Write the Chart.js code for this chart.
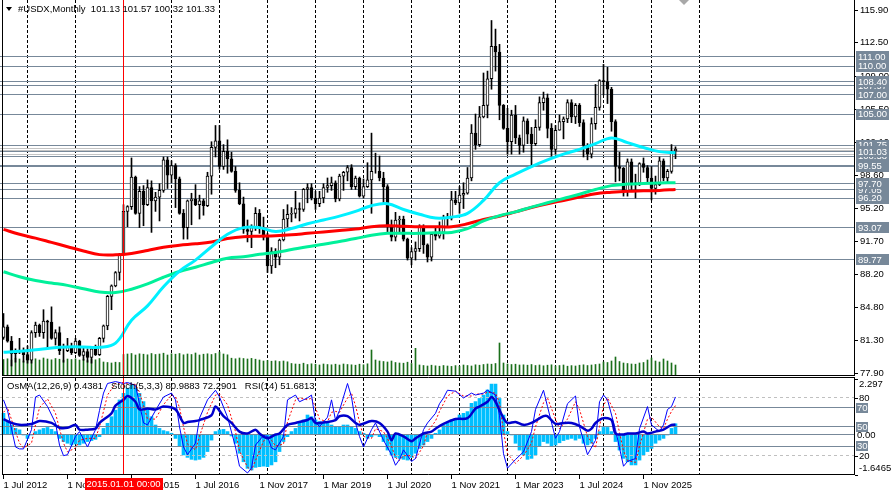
<!DOCTYPE html>
<html>
<head>
<meta charset="utf-8">
<script src="https://cdn.jsdelivr.net/npm/chart.js@4.4.1/dist/chart.umd.min.js"></script>
<style>
html, body { margin: 0; padding: 0; background: #fff; }
#wrap { position: relative; width: 891px; height: 495px; overflow: hidden; background: #fff; }
canvas { position: absolute; left: 0; }
#main { top: 0; }
#osc { top: 376px; }
</style>
</head>
<body>
<div id="wrap">
  <canvas id="main" width="891" height="376"></canvas>
  <canvas id="osc" width="891" height="119"></canvas>
</div>
<script>
// monthly bars, index 0 = Jul 2012
var firstOpen = 81.6;
var closes = [
  82.7, 81.2, 79.9, 80.1, 80.2, 79.8, 79.2, 82.1, 82.9, 82.1,
  83.3, 83.2, 81.5, 82.1, 80.2, 80.2, 80.7, 80.0, 81.2, 79.7,
  80.1, 79.5, 80.4, 79.8, 81.5, 82.8, 85.9, 87.0, 88.4, 90.3,
  94.8, 95.3, 98.4, 94.6, 96.9, 95.5, 97.3, 95.9, 96.3, 97.0,
  100.2, 98.6, 99.6, 98.2, 94.6, 93.1, 95.9, 96.1, 95.5, 95.9,
  95.4, 98.5, 101.5, 102.2, 99.5, 101.1, 100.3, 99.0, 97.0, 95.6,
  92.9, 92.7, 93.1, 94.6, 93.0, 92.1, 89.1, 90.6, 90.0, 91.8,
  94.0, 94.5, 94.6, 95.1, 95.0, 97.1, 97.3, 96.2, 95.6, 96.2,
  97.3, 97.5, 97.8, 96.1, 98.5, 98.9, 99.4, 97.4, 98.3, 96.4,
  97.4, 98.1, 99.0, 99.0, 98.3, 97.4, 93.3, 92.1, 93.9, 94.0,
  91.9, 89.9, 90.6, 90.9, 93.2, 91.3, 90.0, 92.4, 92.2, 92.6,
  94.2, 94.1, 96.0, 95.7, 96.5, 96.7, 98.3, 103.0, 101.8, 104.7,
  105.9, 108.7, 112.1, 111.5, 105.9, 103.5, 102.1, 104.9, 102.5, 101.7,
  104.3, 102.9, 101.9, 103.6, 106.2, 106.7, 103.5, 101.3, 103.3, 104.2,
  104.5, 106.2, 104.7, 105.9, 104.1, 101.7, 100.8, 104.0, 105.7, 108.5,
  108.4, 107.6, 104.2, 99.5, 99.3, 96.9, 100.0, 97.8, 97.75, 99.8,
  99.4, 98.3, 97.2, 97.6, 100.1, 98.3, 99.0, 101.13, 101.33
];
var highs = [
  84.1, 82.9, 81.7, 80.4, 81.5, 80.5, 80.7, 82.3, 83.2, 83.0,
  84.5, 83.4, 84.8, 82.4, 82.7, 80.9, 81.5, 81.0, 81.5, 81.3,
  80.5, 80.4, 80.6, 80.8, 81.6, 82.9, 86.0, 87.1, 88.5, 90.4,
  95.5, 95.4, 100.4, 98.5, 97.4, 97.5, 98.1, 98.0, 96.8, 97.7,
  100.5, 100.5, 100.1, 99.8, 98.4, 95.0, 96.0, 96.7, 97.6, 96.5,
  96.1, 98.9, 102.1, 103.8, 103.8, 101.8, 102.3, 101.0, 99.5, 97.8,
  96.3, 93.9, 93.4, 95.2, 95.0, 94.2, 92.5, 91.0, 90.9, 91.9,
  95.0, 95.5, 95.2, 96.9, 95.7, 97.2, 97.7, 97.7, 96.9, 96.9,
  97.7, 98.3, 98.4, 98.0, 98.7, 99.0, 99.6, 99.7, 98.5, 98.4,
  98.2, 99.9, 103.0, 100.9, 100.6, 98.9, 97.6, 93.9, 94.7, 94.3,
  94.3, 92.0, 91.0, 91.6, 93.4, 93.4, 91.4, 92.5, 93.2, 93.7,
  94.4, 94.6, 96.9, 96.9, 97.4, 97.8, 99.4, 103.9, 105.0, 105.8,
  109.3, 109.5, 114.8, 113.9, 112.3, 106.0, 105.6, 105.4, 105.9, 102.8,
  104.7, 104.5, 103.6, 104.4, 106.8, 107.3, 107.1, 104.0, 103.8, 104.9,
  104.7, 106.5, 106.5, 106.1, 106.1, 104.4, 101.9, 104.6, 108.1, 108.6,
  110.2, 109.9, 107.8, 104.4, 101.0, 99.4, 100.3, 100.3, 98.7, 99.9,
  100.4, 99.6, 99.5, 98.5, 100.5, 100.3, 99.2, 101.8, 101.57
];
var lows = [
  81.4, 81.1, 78.6, 79.0, 79.9, 79.0, 78.9, 78.9, 81.6, 81.7,
  81.5, 80.5, 81.4, 80.8, 79.8, 79.0, 80.1, 79.8, 79.9, 79.6,
  79.2, 79.0, 78.9, 79.7, 79.7, 81.1, 82.4, 84.5, 86.9, 87.6,
  90.2, 93.2, 95.0, 94.5, 93.1, 93.3, 95.4, 92.6, 94.8, 93.8,
  96.8, 97.2, 97.8, 95.2, 94.5, 91.9, 91.9, 93.4, 95.4, 94.0,
  94.4, 95.3, 96.6, 100.5, 99.2, 99.2, 98.8, 98.9, 96.8, 95.5,
  92.5, 91.6, 91.0, 92.8, 92.5, 91.8, 88.4, 88.3, 88.9, 89.2,
  91.7, 93.2, 93.7, 94.1, 93.8, 94.8, 95.7, 96.0, 95.0, 95.3,
  95.7, 96.8, 97.0, 95.8, 95.9, 97.0, 98.0, 97.1, 97.1, 96.3,
  96.2, 97.3, 94.6, 98.8, 98.0, 95.7, 92.5, 91.7, 91.7, 92.5,
  91.7, 89.7, 89.2, 89.7, 90.6, 90.4, 89.5, 89.6, 91.8, 92.0,
  91.9, 93.3, 93.9, 95.5, 94.6, 95.1, 96.6, 98.0, 101.3, 101.6,
  104.6, 104.6, 107.6, 109.5, 104.4, 103.4, 100.8, 100.8, 101.9, 100.8,
  101.0, 101.9, 99.6, 101.7, 103.3, 105.4, 102.5, 100.6, 100.8, 103.3,
  102.4, 104.1, 104.1, 104.0, 103.7, 100.5, 100.2, 100.4, 103.4, 105.4,
  107.0, 106.1, 103.2, 97.9, 98.0, 96.4, 96.4, 97.1, 96.2, 97.5,
  98.9, 97.8, 96.0, 96.6, 97.5, 98.0, 97.8, 98.8, 100.32
];
var volumes = [
  165, 172, 160, 178, 170, 150, 168, 175, 172, 160, 180, 170, 162, 175, 168,
  158, 170, 165, 172, 160, 168, 155, 170, 162, 175, 140, 135, 130, 138, 135,
  215, 220, 225, 210, 222, 218, 212, 225, 215, 220, 228, 210, 222, 218, 225,
  212, 220, 215, 230, 210, 218, 222, 215, 225, 240, 220, 212,
  178, 172, 180, 175, 170, 176, 168, 160, 150, 155, 148, 152, 145, 150, 142,
  125, 120, 118, 128, 115, 122, 118, 110, 120, 115, 112, 118, 110, 120, 115,
  112, 108, 118, 112, 122,
  260,
  160, 150, 145, 140, 150, 135, 130, 128, 138, 125,
  277,
  110, 105, 100, 108, 102, 98, 105, 100, 96, 104, 98, 110, 105, 100, 112,
  108, 115, 120, 118, 125,
  330,
  130, 120, 115, 118, 110, 112, 108, 115, 105, 110, 102, 108, 112, 100, 105,
  110, 98, 104, 100, 108, 112, 105, 110, 115, 120,
  140, 135, 150, 190, 145, 130, 125, 120, 118, 130, 135, 160, 180, 150, 140,
  170, 150, 130, 110
];

// moving averages read every 4 bars
var maBars = [0, 4, 8, 12, 16, 20, 24, 28, 32, 36, 40, 44, 48, 52, 56, 60, 64, 68, 72, 76, 80, 84,
  88, 92, 96, 100, 104, 108, 112, 116, 120, 124, 128, 132, 136, 140, 144, 148, 152, 156, 160, 164, 168];
var maCyan = [80.03, 80.15, 80.3, 80.5, 80.6, 80.6, 80.56, 81.0, 83.4, 84.9, 86.9, 88.55, 89.7, 91.1,
  92.4, 93.1, 93.1, 92.7, 93.0, 93.5, 93.9, 94.3, 94.8, 95.4, 95.6, 95.0, 94.5, 94.1, 94.2, 94.6,
  95.95, 97.8, 98.7, 99.5, 100.2, 100.8, 101.3, 101.9, 102.5, 102.0, 101.5, 101.06, 100.95];
var maGreen = [88.48, 87.95, 87.55, 87.3, 87.05, 86.7, 86.35, 86.3, 86.65, 87.2, 87.9, 88.5, 88.95,
  89.45, 89.9, 90.05, 90.3, 90.5, 90.8, 91.1, 91.35, 91.65, 91.95, 92.3, 92.5, 92.5, 92.5, 92.55,
  92.6, 93.0, 93.8, 94.35, 94.75, 95.25, 95.7, 96.15, 96.6, 97.1, 97.5, 97.67, 97.72, 97.77, 97.81];
var maRed = [92.92, 92.4, 92.0, 91.55, 91.1, 90.65, 90.27, 90.25, 90.4, 90.7, 91.05, 91.25, 91.4,
  91.6, 91.95, 92.15, 92.2, 92.25, 92.35, 92.5, 92.65, 92.8, 92.95, 93.2, 93.3, 93.25, 93.2, 93.2,
  93.2, 93.5, 93.95, 94.3, 94.75, 95.2, 95.6, 95.95, 96.3, 96.65, 96.8, 96.9, 96.95, 97.0, 97.1];

// oscillators
var osma = [
  0.87, 0.53, 0.39, 0.25, 0.19, -0.02, -0.16, -0.02, 0.12, 0.19,
  0.25, 0.29, 0.21, 0.12, -0.16, -0.29, -0.36, -0.43, -0.39, -0.43,
  -0.36, -0.29, -0.25, -0.2, -0.09, 0.25, 0.46, 0.73, 1.0, 1.42,
  1.69, 1.9, 2.03, 1.9, 1.69, 1.35, 1.07, 0.73, 0.39, 0.25,
  0.16, 0.12, 0.05, -0.16, -0.5, -0.84, -0.94, -1.02, -1.05, -1.02,
  -0.94, -0.7, -0.23, 0.12, 0.19, 0.21, 0.12, -0.06, -0.36, -0.77,
  -1.12, -1.39, -1.46, -1.35, -1.32, -1.3, -1.32, -1.25, -1.12, -0.7,
  -0.29, -0.09, 0.12, 0.25, 0.46, 0.6, 0.8, 0.73, 0.6, 0.53,
  0.46, 0.46, 0.39, 0.32, 0.32, 0.39, 0.39, 0.32, 0.25, 0.12,
  0.05, -0.16, -0.09, -0.02, -0.09, -0.29, -0.64, -0.84, -0.94, -0.98,
  -1.02, -1.05, -0.94, -0.77, -0.57, -0.43, -0.29, -0.16, 0.05, 0.19,
  0.39, 0.46, 0.6, 0.66, 0.8, 0.87, 0.94, 1.28, 1.35, 1.48,
  1.62, 1.83, 2.07, 2.07, 1.48, 0.8, 0.12, -0.02, -0.36, -0.64,
  -0.84, -1.02, -0.98, -0.84, -0.5, -0.29, -0.36, -0.47, -0.43, -0.34,
  -0.25, -0.2, -0.16, -0.23, -0.16, -0.36, -0.43, -0.36, -0.16, 0.12,
  0.29, 0.29, 0.12, -0.29, -0.64, -0.98, -1.12, -1.25, -1.25, -1.05,
  -0.84, -0.7, -0.57, -0.36, -0.23, -0.16, -0.02, 0.25, 0.44
];
var stochBars = [0, 1, 3, 4, 5, 7, 8, 9, 11, 13, 14, 15, 16, 18, 19, 21, 23, 24, 25, 26,
  28, 30, 31, 33, 34, 35, 36, 38, 40, 42, 43, 44, 45, 46, 48, 49, 51, 53, 54, 56,
  58, 59, 61, 62, 63, 65, 66, 67, 68, 70, 71, 73, 74, 76, 77, 78, 79, 81, 82, 83,
  84, 86, 87, 88, 89, 90, 92, 93, 95, 97, 98, 99, 100, 102, 103, 105, 106, 108, 109, 110,
  111, 113, 115, 117, 118, 120, 121, 123, 124, 125, 126, 128, 130, 132, 133, 135, 136, 138, 139, 141,
  143, 144, 146, 148, 149, 150, 151, 153, 154, 155, 156, 158, 159, 161, 162, 164, 165, 166, 167, 168];
var stochMain = [78, 67, 29, 27, 27, 47, 81, 83, 71, 54, 31, 20, 21, 40, 45, 29, 47, 67, 85, 95,
  97, 95, 96, 93, 74, 54, 52, 67, 81, 85, 78, 50, 29, 21, 33, 59, 78, 88, 81, 60,
  29, 9, 2, 7, 31, 41, 40, 28, 26, 40, 78, 83, 76, 80, 83, 55, 50, 60, 78, 57,
  67, 95, 81, 54, 40, 29, 47, 54, 36, 21, 10, 16, 26, 14, 17, 47, 54, 64, 74, 80,
  88, 87, 80, 85, 83, 85, 88, 83, 62, 22, 7, 16, 24, 45, 68, 88, 71, 38, 45, 74,
  82, 50, 21, 36, 76, 83, 78, 47, 28, 9, 14, 17, 48, 71, 52, 45, 52, 68, 71, 81];
var stochSignal = [65, 70, 45, 33, 28, 33, 52, 70, 79, 64, 48, 33, 24, 28, 36, 38, 38, 50, 66, 83,
  95, 96, 95, 94, 86, 72, 58, 58, 73, 83, 81, 70, 50, 32, 26, 40, 65, 83, 84, 73,
  45, 25, 8, 5, 15, 35, 40, 36, 30, 32, 55, 78, 80, 78, 80, 70, 58, 55, 65, 66,
  65, 80, 85, 72, 55, 40, 38, 48, 45, 30, 18, 15, 20, 20, 17, 30, 45, 56, 66, 74,
  82, 87, 82, 82, 84, 84, 86, 85, 75, 45, 22, 12, 20, 33, 50, 75, 80, 58, 48, 58,
  76, 68, 40, 28, 50, 72, 80, 64, 44, 25, 15, 13, 30, 58, 60, 50, 48, 58, 66, 72];
var rsiBars = [0, 2, 4, 7, 9, 12, 14, 16, 18, 19, 21, 23, 24, 27, 28, 30, 31, 33, 34, 36,
  38, 40, 43, 45, 46, 48, 49, 52, 53, 55, 57, 59, 61, 63, 64, 66, 68, 69, 71, 73,
  76, 77, 78, 81, 83, 84, 86, 88, 89, 92, 94, 96, 97, 98, 100, 102, 103, 105, 107, 108,
  110, 113, 116, 118, 119, 121, 122, 123, 125, 126, 128, 130, 132, 135, 136, 138, 140, 142, 144, 146,
  147, 148, 150, 152, 153, 155, 156, 158, 160, 161, 163, 165, 167, 168];
var rsiValues = [58, 54, 52, 53, 56, 54, 49, 49, 52, 47, 47, 48, 54, 64, 72, 78, 82, 76, 68, 69,
  68, 71, 68, 54, 55, 56, 57, 62, 71, 61, 54, 45, 43, 47, 43, 38, 42, 43, 52, 54,
  57, 59, 54, 55, 57, 61, 61, 54, 52, 56, 54, 45, 36, 43, 40, 35, 38, 43, 45, 48,
  53, 58, 59, 69, 71, 76, 81, 76, 59, 54, 55, 52, 54, 61, 61, 53, 54, 54, 51, 46,
  48, 54, 59, 57, 43, 42, 43, 43, 45, 43, 45, 47, 52, 52];

// axes and levels
var priceTicks = [115.90, 112.50, 109.00, 105.50, 102.10, 98.60, 95.20, 91.70, 88.20, 84.80, 81.30, 77.90];
var levelPrices = [111.00, 110.00, 108.40, 107.97, 107.00, 105.00, 101.75, 101.41, 101.20, 101.03,
  100.79, 100.58, 99.66, 99.55, 97.70, 97.05, 96.20, 93.07, 89.77];
var taggedLevels = [111.00, 110.00, 108.40, 107.00, 105.00, 101.75, 101.03, 99.55, 97.70, 96.20, 93.07, 89.77];
var coveredTags = [107.97, 100.58, 97.05];
var oscLevels = [80, 70, 50, 30, 20];
var oscTagged = [70, 50, 30];
var osmaScaleMax = 2.297, osmaScaleMin = -1.6465;
var timeLabelBars = [0, 16, 32, 48, 64, 80, 96, 112, 128, 144, 160];
var timeLabels = ['1 Jul 2012', '1 Nov 2013', '1 Mar 2015', '1 Jul 2016', '1 Nov 2017', '1 Mar 2019',
  '1 Jul 2020', '1 Nov 2021', '1 Mar 2023', '1 Jul 2024', '1 Nov 2025'];
var crossBar = 30, crossLabel = '2015.01.01 00:00';
var oscTitles = ['OsMA(12,26,9) 0.4381', 'Stoch(5,3,3) 80.9883 72.2901', 'RSI(14) 51.6813'];

var FONT = '9.5px "Liberation Sans", Arial, sans-serif';
var SLATE = '#778899';
var lightLevels = [101.41, 101.20, 100.79];

var opens = closes.map(function (c, i) { return i === 0 ? firstOpen : closes[i - 1]; });
var barIdx = closes.map(function (c, i) { return i; });
var last = closes.length - 1;
var yearBars = [];
for (var b = 6; b < 175; b += 12) yearBars.push(b);

function pts(bars, vals) {
  return bars.map(function (bb, k) { return { x: bb, y: vals[k] }; });
}
function seg(ctx, x1, y1, x2, y2) {
  ctx.beginPath(); ctx.moveTo(x1, y1); ctx.lineTo(x2, y2); ctx.stroke();
}
function px(scale, v) { return Math.floor(scale.getPixelForValue(v)) + 0.5; }

var xRange = { type: 'linear', min: -0.875, max: 212.625, offset: false, bounds: 'data' };

var mainDeco = {
  id: 'mainDeco',
  beforeDatasetsDraw: function (chart) {
    var ctx = chart.ctx, a = chart.chartArea, x = chart.scales.x, y = chart.scales.y;
    ctx.save();
    ctx.lineWidth = 1;
    ctx.strokeStyle = '#000';
    ctx.setLineDash([3, 2]);
    yearBars.forEach(function (bb) { var p = px(x, bb); seg(ctx, p, a.top, p, a.bottom); });
    ctx.setLineDash([]);
    levelPrices.forEach(function (p) {
      ctx.strokeStyle = lightLevels.indexOf(p) >= 0 ? '#C4C4C4' : SLATE;
      var py = px(y, p);
      seg(ctx, a.left, py, a.right, py);
    });
    ctx.restore();
  },
  afterDatasetsDraw: function (chart) {
    var ctx = chart.ctx, a = chart.chartArea, x = chart.scales.x, y = chart.scales.y;
    ctx.save();
    ctx.lineWidth = 1;
    ctx.strokeStyle = '#FF0000';
    var cx = px(x, crossBar);
    seg(ctx, cx, 0, cx, a.bottom);

    ctx.strokeStyle = '#000';
    seg(ctx, 2.5, 0, 2.5, a.bottom);
    seg(ctx, a.right + 0.5, 0, a.right + 0.5, a.bottom);
    seg(ctx, 2, a.bottom - 0.5, a.right + 1, a.bottom - 0.5);

    ctx.font = FONT;
    ctx.textAlign = 'left';
    ctx.textBaseline = 'middle';
    ctx.fillStyle = '#000';
    priceTicks.forEach(function (t) {
      var py = Math.round(y.getPixelForValue(t));
      ctx.fillRect(a.right + 1, py, 3, 1);
      ctx.fillText(t.toFixed(2), a.right + 6, py + 0.5);
    });
    function tag(p) {
      var py = y.getPixelForValue(p);
      ctx.fillStyle = SLATE;
      ctx.fillRect(a.right + 2, Math.round(py - 5.5), 33, 11);
      ctx.fillStyle = '#fff';
      ctx.fillText(p.toFixed(2), a.right + 4, py + 0.5);
    }
    coveredTags.forEach(tag);
    taggedLevels.forEach(tag);

    // header
    ctx.fillStyle = '#000';
    ctx.beginPath(); ctx.moveTo(6, 7); ctx.lineTo(12, 7); ctx.lineTo(9, 11); ctx.closePath(); ctx.fill();
    var ohlc = [opens[last], highs[last], lows[last], closes[last]].map(function (v) { return v.toFixed(2); });
    ctx.fillText('#USDX,Monthly  ' + ohlc.join(' '), 18, 9.5);

    // chart shift marker
    ctx.fillStyle = '#A8A8A8';
    ctx.beginPath(); ctx.moveTo(679, 0); ctx.lineTo(689, 0); ctx.lineTo(684, 5); ctx.closePath(); ctx.fill();
    ctx.restore();
  }
};

new Chart(document.getElementById('main'), {
  type: 'line',
  data: {
    datasets: [
      { type: 'line', data: pts(maBars, maCyan), borderColor: '#00F0FF', borderWidth: 3, pointRadius: 0, tension: 0.4, order: 1 },
      { type: 'line', data: pts(maBars, maGreen), borderColor: '#00F09A', borderWidth: 3, pointRadius: 0, tension: 0.4, order: 2 },
      { type: 'line', data: pts(maBars, maRed), borderColor: '#FF0000', borderWidth: 3, pointRadius: 0, tension: 0.4, order: 3 },
      {
        type: 'bar',
        data: barIdx.map(function (i) { return { x: i, y: [opens[i], closes[i]] }; }),
        backgroundColor: barIdx.map(function (i) { return closes[i] >= opens[i] ? '#FFFFFF' : '#000000'; }),
        borderColor: '#000', borderWidth: 1, borderSkipped: false, barThickness: 3, grouped: false, order: 5
      },
      {
        type: 'bar',
        data: barIdx.map(function (i) { return { x: i, y: [lows[i], highs[i]] }; }),
        backgroundColor: '#000', barThickness: 1, grouped: false, order: 6
      },
      {
        type: 'bar', yAxisID: 'yVol',
        data: barIdx.map(function (i) { return { x: i, y: volumes[i] }; }),
        backgroundColor: '#1A6F1A', barThickness: 1, grouped: false, order: 7
      }
    ]
  },
  options: {
    responsive: false, animation: false, devicePixelRatio: 1, events: [],
    layout: { padding: { left: 0, right: 37, top: 0, bottom: 0 } },
    plugins: { legend: { display: false }, tooltip: { enabled: false } },
    scales: {
      x: Object.assign({ display: false }, xRange),
      y: { type: 'linear', display: false, min: 77.554, max: 116.948, bounds: 'data' },
      yVol: { type: 'linear', display: false, min: 0, max: 3760, bounds: 'data' }
    }
  },
  plugins: [mainDeco]
});

var oscDeco = {
  id: 'oscDeco',
  beforeDatasetsDraw: function (chart) {
    var ctx = chart.ctx, a = chart.chartArea, x = chart.scales.x;
    ctx.save();
    ctx.lineWidth = 1;
    ctx.strokeStyle = '#000';
    ctx.setLineDash([3, 2]);
    yearBars.forEach(function (bb) { var p = px(x, bb); seg(ctx, p, a.top, p, a.bottom); });
    ctx.restore();
  },
  afterDatasetDraw: function (chart, args) {
    if (args.index !== 0) return;
    var ctx = chart.ctx, a = chart.chartArea, y = chart.scales.y, yo = chart.scales.yOsma;
    ctx.save();
    ctx.lineWidth = 1;
    oscLevels.forEach(function (v) {
      var tagged = oscTagged.indexOf(v) >= 0;
      ctx.strokeStyle = tagged ? SLATE : '#C0C0C0';
      ctx.setLineDash(tagged ? [] : [3, 3]);
      var py = px(y, v);
      seg(ctx, a.left, py, a.right, py);
    });
    ctx.setLineDash([]);
    ctx.strokeStyle = SLATE;
    var pz = px(yo, 0);
    seg(ctx, a.left, pz, a.right, pz);
    ctx.restore();
  },
  afterDraw: function (chart) {
    var ctx = chart.ctx, a = chart.chartArea, x = chart.scales.x, y = chart.scales.y, yo = chart.scales.yOsma;
    ctx.save();
    ctx.lineWidth = 1;
    ctx.strokeStyle = '#FF0000';
    var cx = px(x, crossBar);
    seg(ctx, cx, 0, cx, a.bottom);

    ctx.strokeStyle = '#000';
    seg(ctx, 2, a.top - 0.5, a.right + 1, a.top - 0.5);
    seg(ctx, 2.5, a.top, 2.5, a.bottom);
    seg(ctx, a.right + 0.5, a.top, a.right + 0.5, a.bottom);
    seg(ctx, 2, a.bottom - 0.5, a.right + 1, a.bottom - 0.5);

    ctx.font = FONT;
    ctx.textAlign = 'left';
    ctx.fillStyle = '#000';
    function plain(py, txt, base) {
      ctx.fillRect(a.right + 1, Math.round(py), 3, 1);
      ctx.textBaseline = base;
      ctx.fillText(txt, a.right + 5, py + (base === 'top' ? 1 : base === 'bottom' ? -1 : 0.5));
    }
    plain(yo.getPixelForValue(osmaScaleMax), String(osmaScaleMax), 'top');
    plain(y.getPixelForValue(80), '80', 'middle');
    plain(y.getPixelForValue(20), '20', 'middle');
    plain(yo.getPixelForValue(osmaScaleMin), String(osmaScaleMin), 'bottom');
    ctx.textBaseline = 'middle';
    oscTagged.forEach(function (v) {
      var py = y.getPixelForValue(v);
      ctx.fillStyle = SLATE;
      ctx.fillRect(a.right + 2, Math.round(py - 5), 12, 10);
      ctx.fillStyle = '#fff';
      ctx.fillText(String(v), a.right + 3, py + 0.5);
    });
    ctx.fillStyle = '#000';
    ctx.fillText('0.00', a.right + 3, yo.getPixelForValue(0) + 0.5);

    // indicator titles
    var tx = 7;
    oscTitles.forEach(function (s) {
      ctx.fillText(s, tx, 10);
      tx += ctx.measureText(s).width + 8;
    });

    // crosshair date tag
    ctx.fillStyle = '#FF0000';
    ctx.fillRect(Math.round(cx - 39), a.bottom + 3, 78, 12);
    ctx.fillStyle = '#fff';
    ctx.textAlign = 'center';
    ctx.fillText(crossLabel, cx, a.bottom + 9.5);
    ctx.restore();
  }
};

new Chart(document.getElementById('osc'), {
  type: 'line',
  data: {
    datasets: [
      {
        type: 'bar', yAxisID: 'yOsma',
        data: barIdx.map(function (i) { return { x: i, y: osma[i] }; }),
        backgroundColor: '#00BFFF', barThickness: 3, grouped: false, order: 4
      },
      { type: 'line', yAxisID: 'y', data: pts(stochBars, stochSignal), borderColor: '#FF0000', borderWidth: 1, borderDash: [2, 2], pointRadius: 0, tension: 0, order: 3 },
      { type: 'line', yAxisID: 'y', data: pts(stochBars, stochMain), borderColor: '#0000FF', borderWidth: 1, pointRadius: 0, tension: 0, order: 2 },
      { type: 'line', yAxisID: 'y', data: pts(rsiBars, rsiValues), borderColor: '#0000CD', borderWidth: 2.5, pointRadius: 0, tension: 0.3, order: 1 }
    ]
  },
  options: {
    responsive: false, animation: false, devicePixelRatio: 1, events: [],
    layout: { padding: { left: 0, right: 37, top: 2, bottom: 0 } },
    plugins: { legend: { display: false }, tooltip: { enabled: false } },
    scales: {
      x: Object.assign({
        position: 'bottom',
        grid: { drawOnChartArea: false, drawTicks: true, tickLength: 4, color: '#000', offset: false },
        border: { display: false },
        ticks: {
          font: { family: '"Liberation Sans", Arial, sans-serif', size: 9.5 },
          color: '#000', align: 'start', padding: 1, maxRotation: 0, autoSkip: false,
          callback: function (v) { var k = timeLabelBars.indexOf(v); return k >= 0 ? timeLabels[k] : ''; }
        },
        afterBuildTicks: function (s) { s.ticks = timeLabelBars.map(function (v) { return { value: v }; }); },
        afterFit: function (s) { s.height = 20; }
      }, xRange),
      y: { type: 'linear', display: false, min: -0.1, max: 100.7, bounds: 'data' },
      yOsma: { type: 'linear', display: false, min: -1.663, max: 2.32, bounds: 'data' }
    }
  },
  plugins: [oscDeco]
});
</script>
</body>
</html>
